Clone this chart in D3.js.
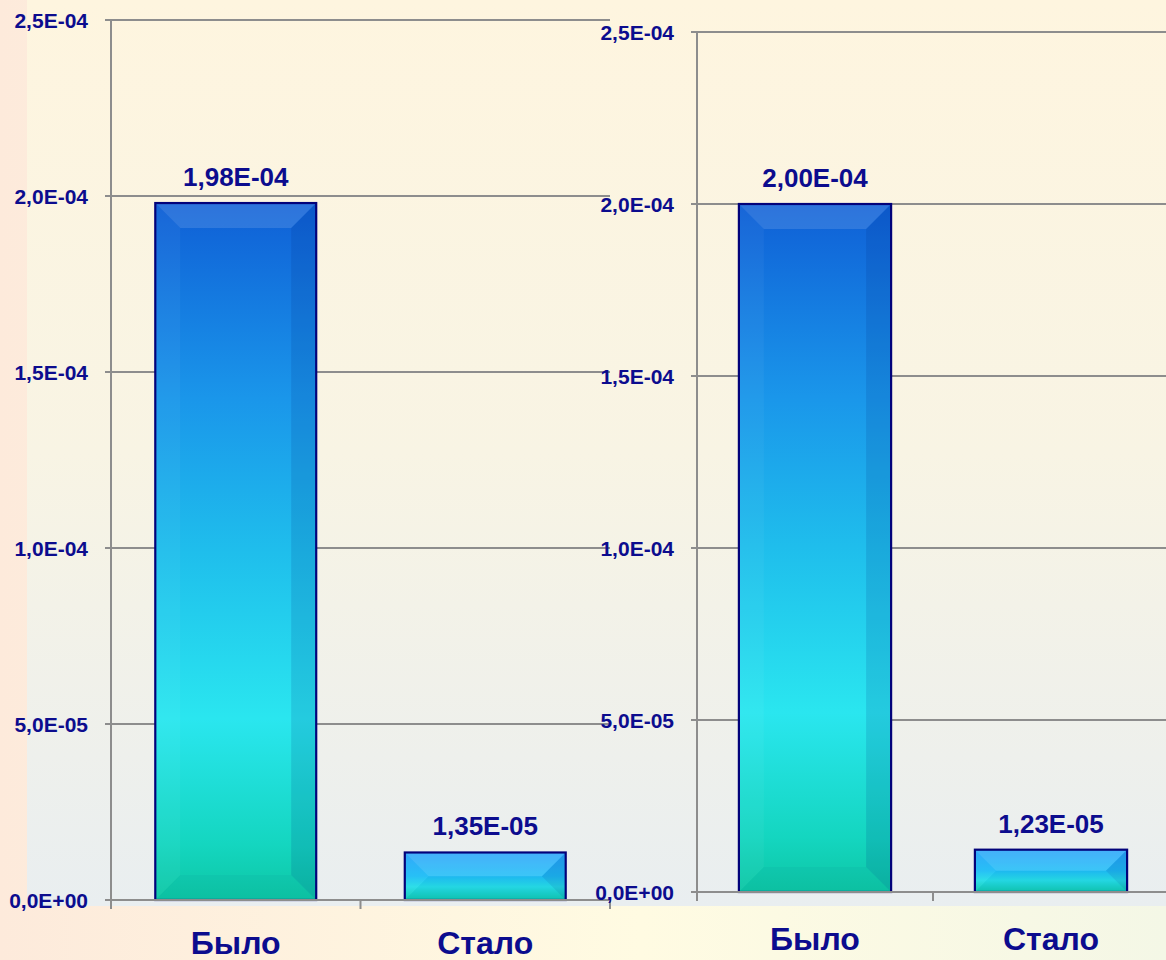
<!DOCTYPE html>
<html>
<head>
<meta charset="utf-8">
<title>Было / Стало</title>
<script src="https://cdn.jsdelivr.net/npm/d3@7"></script>
<style>
  html, body { margin: 0; padding: 0; background: #fff; }
  svg { display: block; }
  text { font-family: "Liberation Sans", Arial, sans-serif; font-weight: bold; fill: #0c0c8e; }
</style>
</head>
<body>
<svg id="chart" width="1166" height="960"></svg>
<script>
// Categories and values for both panels
const categories = ["Было", "Стало"];
const valuesLeft = [1.98e-4, 1.35e-5];
const valuesRight = [2.00e-4, 1.23e-5];
const yTicks = [0, 5e-5, 1e-4, 1.5e-4, 2e-4, 2.5e-4];
const yMax = 2.5e-4;

// "1,98E-04" style scientific notation with a decimal comma
function sci(v, digits) {
  const [m, e] = v.toExponential(digits).split("e");
  const sign = e[0] === "-" ? "-" : "+";
  const exp = e.replace(/^[+-]/, "").padStart(2, "0");
  return m.replace(".", ",") + "E" + sign + exp;
}

const svg = d3.select("#chart");
const W = 1166, H = 960;
const defs = svg.append("defs");

// page background: peach on the left to pale yellow on the right
const pageGrad = defs.append("linearGradient").attr("id", "pageBg")
  .attr("x1", 0).attr("y1", 0).attr("x2", 1).attr("y2", 0);
[[0, "#fdeadb"], [0.55, "#fffbe2"], [1, "#f4f7e6"]].forEach(([o, c]) =>
  pageGrad.append("stop").attr("offset", o).attr("stop-color", c));

// plot area background: cream at the top fading to cool grey at the bottom
const areaGrad = defs.append("linearGradient").attr("id", "areaBg")
  .attr("x1", 0).attr("y1", 0).attr("x2", 0).attr("y2", 1);
[[0, "#fef5df"], [0.5, "#f8f4e4"], [1, "#e9eef0"]].forEach(([o, c]) =>
  areaGrad.append("stop").attr("offset", o).attr("stop-color", c));

// bar fills: tall bars run deep blue -> cyan -> teal, short bars light blue -> teal
const tallGrad = defs.append("linearGradient").attr("id", "barTall")
  .attr("x1", 0).attr("y1", 0).attr("x2", 0).attr("y2", 1);
[[0, "#0f5fd6"], [0.28, "#1a96ea"], [0.5, "#1fbeec"], [0.74, "#2ae6ef"], [0.92, "#14d6c0"], [1, "#0dc6a4"]]
  .forEach(([o, c]) => tallGrad.append("stop").attr("offset", o).attr("stop-color", c));
const shortGrad = defs.append("linearGradient").attr("id", "barShort")
  .attr("x1", 0).attr("y1", 0).attr("x2", 0).attr("y2", 1);
[[0, "#2aa4fa"], [0.5, "#1fbef6"], [0.72, "#26dde8"], [1, "#0fc8b0"]]
  .forEach(([o, c]) => shortGrad.append("stop").attr("offset", o).attr("stop-color", c));

svg.append("rect").attr("width", W).attr("height", H).attr("fill", "url(#pageBg)");
svg.append("rect").attr("x", 27).attr("y", 0).attr("width", W - 27).attr("height", 906)
  .attr("fill", "url(#areaBg)");

const gridColor = "#8d8d8d";

function panel(values, cfg) {
  const g = svg.append("g");
  const y = d3.scaleLinear().domain([0, yMax]).range([cfg.yBottom, cfg.yTop]);
  const x = d3.scaleBand().domain(categories).range([cfg.x0, cfg.x1])
    .paddingInner(0.355).paddingOuter(0.1775);
  const step = x.step();

  // horizontal gridlines (incl. the zero line)
  g.selectAll("line.grid").data(yTicks).join("line")
    .attr("class", "grid")
    .attr("x1", cfg.x0 - 6).attr("x2", cfg.x1)
    .attr("y1", d => y(d)).attr("y2", d => y(d))
    .attr("stroke", gridColor).attr("stroke-width", 2);

  // vertical axis line, extended down to the category tick length
  g.append("line")
    .attr("x1", cfg.x0).attr("x2", cfg.x0)
    .attr("y1", cfg.yTop).attr("y2", cfg.yBottom + 9)
    .attr("stroke", gridColor).attr("stroke-width", 2);

  // category boundary ticks
  g.selectAll("line.ctick").data(d3.range(categories.length + 1)).join("line")
    .attr("class", "ctick")
    .attr("x1", i => cfg.x0 + i * step).attr("x2", i => cfg.x0 + i * step)
    .attr("y1", cfg.yBottom).attr("y2", cfg.yBottom + 9)
    .attr("stroke", gridColor).attr("stroke-width", 2);

  // y axis labels
  const yAxis = d3.axisLeft(y).tickValues(yTicks).tickSize(6).tickPadding(17)
    .tickFormat(d => sci(d, 1));
  const ax = g.append("g").attr("transform", `translate(${cfg.x0},0)`).call(yAxis);
  ax.select(".domain").remove();
  ax.selectAll(".tick line").remove();
  ax.selectAll(".tick text")
    .attr("fill", null)
    .style("font-size", "21px")
    .attr("dy", "0.36em");

  // bars with bevelled edges
  const bars = g.selectAll("g.bar").data(categories.map((c, i) => ({ c, v: values[i] })))
    .join("g").attr("class", "bar");

  bars.each(function (d) {
    const bx = x(d.c), bw = x.bandwidth();
    const by = y(d.v), bh = y(0) - y(d.v);
    const b = Math.min(25, bh / 2, bw / 2);
    const sel = d3.select(this);
    sel.append("rect")
      .attr("x", bx).attr("y", by).attr("width", bw).attr("height", bh)
      .attr("fill", bh > 120 ? "url(#barTall)" : "url(#barShort)");
    const facets = [
      { pts: [[bx, by], [bx + bw, by], [bx + bw - b, by + b], [bx + b, by + b]], fill: "#ffffff", op: 0.13 },
      { pts: [[bx, by], [bx + b, by + b], [bx + b, by + bh - b], [bx, by + bh]], fill: "#ffffff", op: 0.04 },
      { pts: [[bx + bw, by], [bx + bw, by + bh], [bx + bw - b, by + bh - b], [bx + bw - b, by + b]], fill: "#002a80", op: 0.14 },
      { pts: [[bx, by + bh], [bx + b, by + bh - b], [bx + bw - b, by + bh - b], [bx + bw, by + bh]], fill: "#003060", op: 0.04 }
    ];
    sel.selectAll("polygon").data(facets).join("polygon")
      .attr("points", f => f.pts.map(p => p.join(",")).join(" "))
      .attr("fill", f => f.fill).attr("fill-opacity", f => f.op);
    sel.append("rect")
      .attr("x", bx).attr("y", by).attr("width", bw).attr("height", bh)
      .attr("fill", "none").attr("stroke", "#02027a").attr("stroke-width", 2.2);
    // value label above the bar
    sel.append("text")
      .attr("x", bx + bw / 2).attr("y", by - 17)
      .attr("text-anchor", "middle")
      .style("font-size", "26px")
      .text(sci(d.v, 2));
  });

  // zero line drawn over the bar bottoms
  g.append("line")
    .attr("x1", cfg.x0 - 6).attr("x2", cfg.x1)
    .attr("y1", y(0)).attr("y2", y(0))
    .attr("stroke", gridColor).attr("stroke-width", 2);

  // category labels
  g.selectAll("text.cat").data(categories).join("text")
    .attr("class", "cat")
    .attr("x", d => x(d) + x.bandwidth() / 2)
    .attr("y", cfg.catY)
    .attr("text-anchor", "middle")
    .style("font-size", "32px")
    .text(d => d);
}

panel(valuesLeft, { x0: 111, x1: 610, yTop: 20, yBottom: 900, catY: 954 });
panel(valuesRight, { x0: 697, x1: 1169, yTop: 32, yBottom: 892, catY: 950 });
</script>
</body>
</html>
